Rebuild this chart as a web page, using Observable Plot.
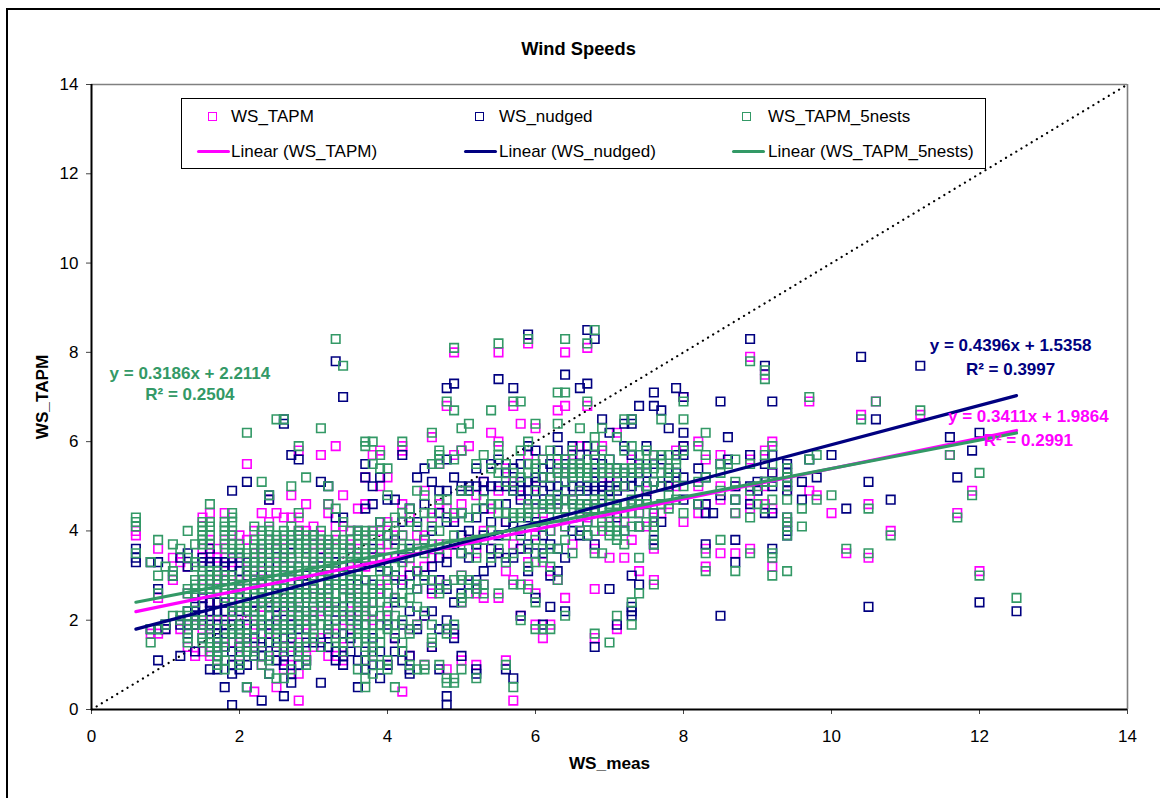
<!DOCTYPE html>
<html><head><meta charset="utf-8">
<script src="https://cdn.jsdelivr.net/npm/d3@7"></script>
<script src="https://cdn.jsdelivr.net/npm/@observablehq/plot@0.6"></script>
<style>
html,body{margin:0;padding:0;background:#fff;width:1160px;height:798px;overflow:hidden}
#wrap{position:relative;width:1160px;height:798px}
#frame{position:absolute;left:6px;top:8px;width:1154px;height:790px;border-left:2px solid #000;border-top:2px solid #000;box-sizing:border-box}
#chart{position:absolute;left:0;top:0}
#legend{position:absolute;left:181px;top:98px;width:805px;height:71px;border:1.3px solid #000;box-sizing:border-box;background:#fff;font:17px "Liberation Sans",Arial,sans-serif;color:#000}
#legend .t{position:absolute;white-space:nowrap;line-height:20px}
#legend .m{position:absolute;width:7px;height:7px;border:1.5px solid}
#legend .l{position:absolute;height:3px;width:33px;border-radius:1.5px}
</style></head><body>
<div id="wrap"><div id="frame"></div><div id="chart"></div><div id="legend"></div></div>
<script>
const seriesNames = ["WS_TAPM","WS_nudged","WS_TAPM_5nests"];
const seriesColors = ["#ff00ff","#000080","#339966"];
const axisTicks = [0,2,4,6,8,10,12,14];
const trendSlope = [0.3411,0.4396,0.3186];
const trendIntercept = [1.9864,1.5358,2.2114];
const trendX = [0.6,12.5];

const wsTapm = [
[0.6,[4,3.9]],[0.8,[1.7]],[0.9,[3.6,2.5,1.7]],[1.0,[1.8]],[1.1,[3.4,2.9]],[1.2,[3.3,2.0,1.8]],[1.3,[3.2,2.6,2.0,1.4]],[1.4,[2.6,2.4,1.9,1.2]],
[1.5,[4.3,3.6,3.4,2.9,2.5,1.8,1.3]],[1.6,[4.4,3.8,3.5,3.2,2.4,2.0,1.8,1.3,1.2]],[1.7,[3.6,3.4,2.9,2.4,1.9,1.4,1.1]],[1.8,[4.4,3.8,3.4,3.1,2.4,2.0,1.4]],[1.9,[3.9,3.4,3.3,2.8,2.4,2.1,1.5,1.0]],[2.0,[3.9,3.3,2.9,2.2,1.6,1.2]],
[2.1,[5.5,3.8,3.3,2.6,2.0,1.5]],[2.2,[4.0,3.5,3.1,2.4,1.9,1.5,1.2,0.4]],[2.3,[4.4,3.5,3.1,2.9,2.3,1.5,1.0]],[2.4,[4.7,4.2,3.8,3.1,2.3,1.7]],[2.5,[4.4,3.6,3.3,2.6,2.1,1.9,1.3,0.5]],[2.6,[4.3,3.8,3.2,2.3,1.6,1.1,0.9]],[2.7,[4.8,4.3,3.4,2.7,2.1,1.4,1.0]],
[2.8,[5.8,4.3,4.0,3.0,2.3,1.5,0.8,0.2]],[2.9,[4.6,4.0,3.5,2.6,1.9,1.2,1.1]],[3.0,[4.1,3.7,3.3,2.7,2.2,1.7,1.4]],[3.1,[5.7,3.9,3.6,3.0,2.2,1.6]],[3.2,[4.6,4.4,3.5,2.4,1.8,1.2]],[3.3,[5.9,4.1,3.8,3.1,2.4,1.7,1.2]],[3.4,[4.8,4.1,3.5,2.8,2.0,1.4,1.1]],
[3.5,[4.0,3.7,3.2,2.6,2.2,1.8]],[3.6,[4.5,3.6,3.2,2.7,2.2,1.5]],[3.7,[5.2,4.6,3.8,3.2,2.9,2.1,1.1]],[3.8,[5.7,4.0,3.4,2.4,2.0,1.3]],[3.9,[5.8,5.0,4.0,3.6,2.7,1.9]],[4.0,[5.2,4.2,3.7,2.9,2.2,1.0]],[4.1,[3.9,3.4,2.5,1.6]],[4.2,[5.9,5.8,4.6,3.9,2.9,0.4]],[4.3,[4.3,3.2,3.0,1.8,1.2]],[4.4,[3.9,3.6,2.7,1.9]],
[4.5,[4.9,3.9,3.2,2.1,1.0]],[4.6,[6.1,4.3,3.4,2.6,1.4]],[4.7,[5.5,4.6,3.7,2.9]],[4.8,[6.8,4.5,3.5,2.8,1.8,0.9]],[4.9,[8.0,5.7,4.3,3.7,1.7]],[5.0,[5.8,4.6,3.0,2.4,1.1]],[5.1,[5.9,4.9,3.8,2.8]],
[5.2,[4.8,3.5,2.6,1.0]],[5.3,[5.1,4.0,2.8,2.5]],[5.4,[6.2,4.5,3.6]],[5.5,[8.0,6.0,4.9,3.5,2.5]],[5.6,[5.4,4.2,3.1,1.1]],[5.7,[6.8,5.1,3.7,2.9,0.2]],[5.8,[6.4,4.8,3.6,2.1]],[5.9,[8.2,5.7,4.5,3.3,2.8]],
[6.0,[6.3,5.0,3.9,2.6,1.9]],[6.1,[5.6,4.4,3.3,1.6]],[6.2,[5.2,4.0,3.1,1.9]],[6.3,[6.7,5.5,4.6,2.9]],[6.4,[8.0,6.8,5.3,4.1,2.5]],[6.5,[5.7,4.7,3.7]],[6.6,[5.9,4.9,4.0]],[6.7,[8.1,6.8,5.4,4.3]],
[6.8,[5.7,4.6,3.6,2.7,1.6]],[6.9,[5.9,5.0,4.0]],[7.0,[5.2,4.3,3.4]],[7.1,[6.2,5.4,4.4,1.8]],[7.2,[5.0,4.2,3.4]],[7.3,[5.6,4.6,3.8]],[7.4,[5.3,4.4,3.1]],[7.5,[4.9,4.1]],[7.6,[5.7,4.3,3.6,2.9]],
[7.7,[5.0,4.4]],[7.8,[5.4,4.6]],[7.9,[5.8,5.0]],[8.0,[7.0,5.9,4.2]],[8.2,[6.0,5.0,4.4]],[8.3,[5.6,4.6,3.6,3.2]],[8.5,[5.7,5.0,4.7,3.5]],[8.7,[5.0,4.4,3.5]],[8.9,[7.9,5.6,4.8,4.5,3.6]],[9.1,[7.5,5.8,5.0,4.6]],[9.2,[6.0,5.3,4.5,3.2]],
[9.4,[4.9,4.2]],[9.7,[6.9,4.9]],[9.8,[4.8]],[10.0,[4.4]],[10.2,[3.5]],[10.4,[6.6]],[10.5,[4.6,3.4]],[10.6,[6.9]],[10.8,[4.0]],[11.2,[6.6]],[11.6,[5.7]],[11.7,[4.4]],[11.9,[4.9]],[12.0,[3.1]]
];

const wsNudged = [
[0.6,[3.6,3.4,3.3]],[0.8,[3.3,1.8]],[0.9,[3.3,2.7,1.8,1.1]],[1.0,[1.9,1.8]],[1.1,[3.0]],[1.2,[3.4,1.9,1.2]],[1.3,[3.5,3.2,2.2,1.9,1.7]],[1.4,[2.3,2.2,1.9,1.3]],
[1.5,[3.4,3.3,2.5,2.3,2.1,1.9,1.6]],[1.6,[3.6,3.3,3.2,2.7,2.4,2.2,1.9,1.7,0.9]],[1.7,[3.3,3.0,2.4,2.2,1.9,1.7,1.6,1.2,0.9]],[1.8,[3.3,3.2,2.9,2.4,2.2,1.9,1.7,1.4,0.5]],[1.9,[4.9,3.4,3.2,2.6,2.2,1.9,1.7,1.3,1.0,0.8,0.1]],[2.0,[3.4,3.1,2.7,2.2,1.9,1.7,1.4,1.1,0.9]],
[2.1,[5.1,3.3,3.0,2.6,2.2,1.9,1.6,1.3,1.0,0.5]],[2.2,[3.3,2.9,2.4,2.2,1.8,1.6,1.2]],[2.3,[3.6,3.0,2.7,2.4,1.9,1.7,1.4,1.2,0.2]],[2.4,[4.8,4.7,3.3,2.9,2.4,2.1,1.9,1.5,0.8]],[2.5,[3.6,3.0,2.6,2.3,2.0,1.7,1.4,1.1]],[2.6,[6.5,6.4,3.4,2.9,2.5,2.2,1.9,1.6,1.2,1.0,0.3]],[2.7,[5.7,3.7,3.1,2.6,2.3,1.9,1.6,1.3,0.8,0.6]],
[2.8,[5.6,3.9,3.2,2.8,2.4,2.1,1.8,1.3,1.0]],[2.9,[3.6,3.0,2.6,2.2,1.8,1.5,1.1]],[3.0,[3.9,3.2,2.7,2.3,2.0,1.5]],[3.1,[5.1,3.4,3.0,2.5,2.1,1.5,0.6]],[3.2,[5.0,3.7,3.1,2.7,2.2,1.7,1.4]],[3.3,[7.8,4.3,3.3,2.8,2.4,2.0,1.3,1.1]],[3.4,[7.0,4.3,3.2,2.7,2.3,1.7,1.2,1.0]],
[3.5,[3.6,3.0,2.5,2.1,1.6,1.3]],[3.6,[4.0,3.4,2.8,2.3,1.9,1.1,0.5]],[3.7,[5.5,5.2,4.5,3.3,2.9,2.4,1.9,1.3,0.9]],[3.8,[5.0,4.6,3.6,2.8,2.2,1.6,1.0]],[3.9,[5.2,4.2,3.2,2.6,1.9,1.3,0.7]],[4.0,[4.7,3.9,3.1,2.6,1.9,1.0]],[4.1,[4.7,3.8,3.0,2.4,1.6,1.3]],[4.2,[5.7,4.2,3.4,2.8,1.9,1.1]],[4.3,[4.5,3.6,3.0,2.2,1.2,0.9,0.8]],[4.4,[5.2,4.2,3.1,2.7,1.8]],
[4.5,[5.4,4.6,3.8,3.0,2.1]],[4.6,[5.1,4.0,3.2,2.7,2.2,1.4]],[4.7,[4.9,4.4,3.4,2.9,1.8,0.9]],[4.8,[7.2,5.6,4.9,4.2,3.3,2.7,2.0,0.3,0.1]],[4.9,[7.3,5.2,4.2,3.7,2.4,1.8,1.6]],[5.0,[5.0,4.9,4.4,3.9,3.5,2.6,1.2]],[5.1,[5.0,4.9,4.0,3.4,2.8]],
[5.2,[5.4,5.0,4.3,3.7,2.9,2.7,0.9,0.8]],[5.3,[5.1,4.9,4.5,3.9,3.1]],[5.4,[5.5,5.0,4.2,3.6,3.3]],[5.5,[7.4,5.6,5.0,3.9,3.5]],[5.6,[5.3,5.0,4.6,4.2,3.4,0.9]],[5.7,[7.2,5.4,5.0,4.9,4.1,3.4,0.7]],[5.8,[5.5,5.1,4.9,4.7,4.0,3.6,2.1]],[5.9,[8.4,5.9,5.1,4.9,4.3,3.7,3.1]],
[6.0,[5.8,5.2,5.1,4.7,4.2,3.5,2.5]],[6.1,[5.4,5.2,4.9,4.6,3.9,3.5,1.9]],[6.2,[5.5,5.0,4.7,4.5,3.7,3.0,2.3]],[6.3,[6.1,5.8,5.4,5.0,4.7,3.6,3.1]],[6.4,[7.5,5.6,5.5,5.1,4.9,4.5,3.4,2.2]],[6.5,[5.9,5.4,5.2,5.0,4.7,4.0]],[6.6,[7.2,5.7,5.5,5.0,4.9,4.4,3.9]],[6.7,[8.5,7.3,5.9,5.2,5.0,4.9,4.6,4.2,3.9]],
[6.8,[8.3,5.7,5.3,5.0,4.9,4.5,3.7,1.4]],[6.9,[6.5,5.5,5.1,5.0,4.8]],[7.0,[6.2,5.6,5.0,4.9,4.7,2.7]],[7.1,[5.4,5.1,5.0,4.9,4.3,1.9]],[7.2,[6.4,5.9,5.3,5.0,4.6,4.0]],[7.3,[6.5,6.4,5.7,5.2,5.0,3.0,2.3,2.2,2.1]],[7.4,[6.8,5.5,5.1,4.6,4.1,2.8]],[7.5,[5.9,5.3,5.0,4.7]],[7.6,[7.1,6.8,5.5,5.1,4.4,4.1,3.8,3.7]],
[7.7,[6.7,5.6,5.0,4.2]],[7.8,[6.3,5.2,5.0]],[7.9,[7.2,5.7,5.3]],[8.0,[7.0,6.2,5.9,5.7,5.2,4.7]],[8.2,[5.4,4.6]],[8.3,[5.2,4.6,4.4,3.7]],[8.4,[4.4]],[8.5,[6.9,5.5,4.8,2.1]],[8.6,[6.1,5.6]],[8.7,[5.0,4.7,3.8,3.3]],[8.9,[8.3,5.7,5.0,4.6]],[9.0,[5.1,4.9]],[9.1,[7.7,5.5,5.1,4.4]],[9.2,[6.9,5.7,5.3,5.0,4.4,3.6]],
[9.4,[5.5,5.4,5.3,5.2,5.1,5.0,4.9,4.3,4.1,4.0,3.9]],[9.6,[5.1,4.7]],[9.7,[5.6]],[9.8,[5.2]],[10.0,[5.7]],[10.2,[4.5]],[10.4,[7.9]],[10.5,[5.1,2.3]],[10.6,[6.5]],[10.8,[4.7]],[11.2,[7.7]],[11.6,[6.1]],[11.7,[5.2]],[11.9,[5.8]],[12.0,[6.2,2.4]],[12.5,[2.2]]
];

const wsNests = [
[0.6,[4.3,4.2,4.1,3.5]],[0.8,[3.3,1.8,1.5]],[0.9,[3.8,3.0,2.6,1.8]],[1.0,[3.2,1.9]],[1.1,[3.7,3.1,3.0,2.1]],[1.2,[3.6,2.1,2.0]],[1.3,[4.0,3.4,2.7,2.6,2.2,2.1,1.9,1.8,1.6,1.5]],[1.4,[3.7,3.3,3.2,2.9,2.8,2.7,2.6,2.4,2.0,1.9]],
[1.5,[4.2,4.1,4.0,3.9,3.8,3.7,3.1,3.0,2.8,2.7,2.0,1.9,1.6,1.5]],[1.6,[4.6,4.2,4.1,3.9,3.7,3.1,3.0,2.9,2.7,2.6,1.8,1.7,1.5,1.4,1.3]],[1.7,[3.1,3.0,2.8,2.7,2.0,1.5,1.4,1.3,1.2,1.1,1.0]],[1.8,[4.2,4.1,4.0,3.9,3.7,3.6,3.0,2.9,2.7,2.6,2.5,1.8,1.6,1.5,1.4,1.1,0.9]],[1.9,[4.4,4.3,4.2,4.0,3.9,3.7,3.6,3.5,3.0,2.9,2.7,2.6,2.3,2.2,2.0,1.8,1.7]],[2.0,[3.7,3.6,3.5,2.8,2.7,2.5,2.4,2.3,1.9,1.8,1.7,1.6,1.4,1.3,1.1,1.0]],
[2.1,[6.2,3.5,3.4,3.2,3.1,2.9,2.7,2.4,2.3,2.2,1.7,1.6,1.4,1.3,0.5]],[2.2,[4.1,3.8,3.7,3.6,3.4,3.3,3.1,3.0,2.8,2.7,2.6,2.5,2.3,2.1,2.0,1.8,1.3,1.2]],[2.3,[5.1,4.0,3.9,3.7,3.6,3.4,3.3,3.2,2.9,2.8,2.7,2.5,2.4,2.2,2.0,1.9,1.7,1.5,1.0]],[2.4,[4.8,4.1,4.0,3.8,3.7,3.5,3.4,3.1,3.0,2.9,2.7,2.6,2.5,2.3,2.1,1.8,1.2,1.1,0.8]],[2.5,[6.5,3.9,3.8,3.7,3.5,3.4,3.2,3.1,3.0,2.8,2.7,2.5,2.4,2.2,1.9,1.8,1.7,1.6,1.5,0.7]],[2.6,[6.5,4.0,3.9,3.7,3.6,3.5,3.3,3.2,3.1,2.9,2.8,2.6,2.5,2.4,2.1,1.9,1.8,1.4,1.3,0.7]],[2.7,[5.0,4.1,3.9,3.8,3.6,3.4,3.3,3.1,3.0,2.8,2.7,2.5,2.4,2.3,2.2,2.0,1.8,1.7,1.5,0.9]],
[2.8,[5.9,4.4,4.0,3.9,3.7,3.6,3.5,3.2,3.1,3.0,2.7,2.6,2.4,2.3,2.1,2.0,1.9,1.4,1.3,1.2]],[2.9,[5.2,3.9,3.8,3.7,3.5,3.4,3.3,3.1,2.9,2.7,2.6,2.5,2.2,2.1,2.0,1.8,1.6,1.4,1.1,1.0]],[3.0,[3.9,3.8,3.6,3.5,3.3,3.2,3.0,2.9,2.7,2.6,2.4,2.3,2.1,2.0,1.8,1.7,1.6]],[3.1,[6.3,4.0,3.8,3.7,3.5,3.3,3.1,3.0,2.8,2.6,2.5,2.4,2.1,1.9,1.4]],[3.2,[5.0,4.6,3.8,3.7,3.6,3.4,3.3,3.2,3.1,2.9,2.8,2.6,2.5,2.3,2.2,1.9,1.8]],[3.3,[8.3,4.5,3.9,3.7,3.6,3.4,3.2,3.1,2.9,2.8,2.6,2.4,2.3,2.1,1.8,1.6,1.5]],[3.4,[7.7,4.2,3.8,3.7,3.5,3.4,3.0,2.8,2.7,2.5,2.2,2.1,1.9,1.5,1.3]],
[3.5,[4.0,3.8,3.6,3.5,3.3,3.1,2.9,2.8,2.6,2.5,2.3,2.0,1.7]],[3.6,[4.0,3.9,3.7,3.5,3.4,3.1,3.0,2.7,2.6,2.4,2.3,2.1,2.0,1.8,1.7,1.5,0.9]],[3.7,[6.0,5.9,4.0,3.9,3.8,3.6,3.5,3.4,2.9,2.7,2.5,2.4,2.2,2.1,1.9,1.7,1.6,1.4,1.1,0.7,0.5]],[3.8,[6.0,5.5,4.0,3.9,3.7,3.5,3.3,2.9,2.7,2.6,2.4,2.2,1.9,1.7,1.4,1.3,1.2,0.8]],[3.9,[5.7,5.4,4.2,3.9,3.7,3.4,3.1,2.8,2.6,2.4,2.1,1.9,1.7,1.5,1.0]],[4.0,[5.4,4.8,4.1,3.9,3.4,3.1,2.8,2.6,2.3,2.1,1.8,1.1,0.9]],[4.1,[4.3,4.0,3.7,3.2,2.9,2.5,2.1,1.9,1.7,0.5]],[4.2,[6.0,4.4,3.9,3.6,3.3,2.6,2.4,2.0,1.5,1.3]],[4.3,[4.5,4.2,3.7,3.4,2.8,2.5,1.8,1.7,1.0]],[4.4,[4.9,4.1,3.6,3.1,2.7,2.3,1.9,0.9]],
[4.5,[4.8,4.4,3.8,3.5,2.9,2.2,1.0,0.9]],[4.6,[6.2,5.5,4.4,4.1,3.7,2.9,1.9,1.6,1.5]],[4.7,[5.8,5.7,5.6,5.5,4.7,4.0,3.6,2.7,2.6,1.0]],[4.8,[6.9,4.7,4.3,3.7,2.8,1.8,1.7,0.7,0.6]],[4.9,[8.1,6.7,5.6,4.4,3.9,2.9,1.9,0.7,0.6]],[5.0,[6.3,5.8,4.9,4.4,3.5,3.0,2.9,2.5,2.4,0.9]],[5.1,[6.4,4.9,4.3,3.6,2.9,2.6]],
[5.2,[5.5,4.5,3.8,3.4,2.8,2.7,0.7]],[5.3,[5.7,4.7,3.8,2.8,2.6]],[5.4,[6.7,5.4,4.6,4.0,3.4]],[5.5,[8.2,5.9,5.7,5.3,4.6,4.4,3.6,2.6]],[5.6,[5.5,5.1,4.4,3.9,3.3,1.0]],[5.7,[6.9,5.3,4.9,4.4,4.3,3.5,2.8,0.5]],[5.8,[6.9,5.8,5.2,4.4,4.3,3.9,2.8,2.0]],[5.9,[8.3,6.0,5.5,5.3,4.6,4.5,4.4,3.6,3.2,2.7]],
[6.0,[6.4,5.5,5.4,4.9,4.6,4.3,3.8,3.3,2.4,1.8]],[6.1,[5.6,5.2,4.6,4.5,4.1,3.6,3.4,1.8]],[6.2,[5.8,5.2,4.7,4.6,4.5,4.0,3.6,3.2,1.8]],[6.3,[7.1,6.4,5.6,5.4,5.3,4.8,4.6,4.3,3.6,2.9]],[6.4,[8.3,7.1,5.6,5.4,5.3,5.1,4.7,4.5,4.1,3.8,2.1]],[6.5,[5.8,5.5,5.4,5.3,5.2,4.7,4.6,4.3,3.5]],[6.6,[6.3,5.5,5.4,5.3,4.9,4.6,4.5,4.4,4.0]],[6.7,[8.2,6.9,5.6,5.4,5.3,5.2,4.6,4.5,4.2,3.9]],
[6.8,[8.5,6.1,5.9,5.6,5.4,5.2,4.7,4.6,4.5,4.0,3.5,1.7]],[6.9,[6.3,5.8,5.4,5.3,4.7,4.5,4.2,4.1,3.5]],[7.0,[5.6,5.4,5.3,4.8,4.6,4.4,4.1,4.0,3.9,1.5]],[7.1,[6.1,5.4,5.3,5.0,4.6,4.5,4.2,4.0,3.9,3.8,2.1]],[7.2,[6.5,5.8,5.4,5.3,5.0,4.6,4.4,4.0,3.7]],[7.3,[6.5,5.9,5.4,5.3,4.7,4.6,4.4,4.1,2.4,1.9]],[7.4,[5.7,5.4,5.3,4.9,4.6,4.4,4.1,3.4,2.6]],[7.5,[5.8,5.5,5.4,5.0,4.6,4.2]],[7.6,[5.7,5.4,5.1,4.4,4.2,4.1,3.9,3.7,2.8]],
[7.7,[6.5,5.7,5.5,5.3,5.0,4.6]],[7.8,[5.7,5.4,5.3,4.8,4.5]],[7.9,[5.6,5.5,5.2,4.7]],[8.0,[6.9,6.5,5.8,5.0,4.4]],[8.2,[5.9,5.1,4.6]],[8.3,[6.2,5.7,5.2,3.5,3.1]],[8.5,[5.5,5.3,4.9,3.8]],[8.6,[5.5]],[8.7,[5.6,5.1,4.7,4.4,3.1]],[8.9,[7.8,5.5,4.9,4.3,3.5]],[9.0,[5.0,4.6]],[9.1,[7.6,7.4,5.7,5.1,4.5]],[9.2,[5.9,5.5,5.1,4.7,3.5,3.4,3.0]],
[9.4,[5.4,5.2,5.0,4.7,4.3,4.2,4.1,3.9,3.1]],[9.6,[4.5,4.1]],[9.7,[7.0,5.6]],[9.8,[5.7,4.7]],[10.0,[4.8]],[10.2,[3.6]],[10.4,[6.5]],[10.5,[4.5,3.5]],[10.6,[6.9]],[10.8,[3.9]],[11.2,[6.7]],[11.6,[5.7]],[11.7,[4.3]],[11.9,[4.8]],[12.0,[5.3,3.0]],[12.5,[2.5]]
];

const allSeries = [wsTapm, wsNudged, wsNests];
const flat = allSeries.map(cols => cols.flatMap(([x, ys]) => ys.map(y => ({x, y}))));
const font = '"Liberation Sans",Arial,sans-serif';
const lines = seriesColors.map((c,i) => trendX.map(x => ({x, y: trendSlope[i]*x + trendIntercept[i]})));

const labelData = [
  {s:1, x:12.42, y:8.15, t:"y = 0.4396x + 1.5358"},
  {s:1, x:12.42, y:7.62, t:"R² = 0.3997"},
  {s:0, x:12.66, y:6.56, t:"y = 0.3411x + 1.9864"},
  {s:0, x:12.66, y:6.03, t:"R² = 0.2991"},
  {s:2, x:1.33, y:7.53, t:"y = 0.3186x + 2.2114"},
  {s:2, x:1.33, y:7.06, t:"R² = 0.2504"}
];

const plot = Plot.plot({
  width:1160, height:798,
  marginLeft:91, marginRight:33, marginTop:84, marginBottom:89,
  style:{fontFamily:font, fontSize:"17px", background:"transparent", color:"#000"},
  x:{domain:[0,14], range:[91,1127], label:null},
  y:{domain:[0,14], range:[709,84], label:null},
  marks:[
    Plot.axisX({ticks:axisTicks, tickSize:5, tickPadding:15, tickFormat:d=>d, anchor:"bottom", stroke:"#444", fontSize:17, label:null, color:"#000"}),
    Plot.axisY({ticks:axisTicks, tickSize:5, tickPadding:8, tickFormat:d=>d, anchor:"left", stroke:"#444", fontSize:17, label:null, color:"#000"}),
    Plot.ruleY([14],{stroke:"#808080", strokeWidth:1.6}),
    Plot.ruleX([14],{stroke:"#808080", strokeWidth:1.6}),
    Plot.line([{x:0,y:0},{x:14,y:14}],{x:"x",y:"y",stroke:"#000",strokeWidth:2.2,strokeLinecap:"round",strokeDasharray:"0.1 5.9"}),
    ...flat.map((pts,i)=>Plot.dot(pts,{x:"x",y:"y",symbol:"square",r:4.8,stroke:seriesColors[i],strokeWidth:1.6,fill:"none"})),
    Plot.ruleX([0],{stroke:"#000", strokeWidth:2}),
    Plot.ruleY([0],{stroke:"#000", strokeWidth:2}),
    ...lines.map((l,i)=>Plot.line(l,{x:"x",y:"y",stroke:seriesColors[i],strokeWidth:3.2,strokeLinecap:"round"})),
    Plot.text(labelData,{x:"x",y:"y",text:"t",fill:d=>seriesColors[d.s],fontWeight:"bold",fontSize:17,textAnchor:"middle"}),
    Plot.text(["Wind Speeds"],{frameAnchor:"top",dx:-31,dy:-43,fontWeight:"bold",fontSize:18.3,fill:"#000",textAnchor:"middle"}),
    Plot.text(["WS_meas"],{frameAnchor:"bottom",dy:59,fontWeight:"bold",fontSize:17.2,fill:"#000",textAnchor:"middle"}),
    Plot.text(["WS_TAPM"],{frameAnchor:"left",dx:-49,rotate:-90,fontWeight:"bold",fontSize:17.2,fill:"#000",textAnchor:"middle"})
  ]
});
document.getElementById("chart").appendChild(plot);

const lg = document.getElementById("legend");
const lx = [[24,14.5,48],[291,282,316],[558,550,585]];
seriesNames.forEach((n,i)=>{
  const [mx,lnx,tx]=lx[i];
  lg.insertAdjacentHTML("beforeend",
   `<div class="m" style="left:${mx+2}px;top:13px;border-color:${seriesColors[i]}"></div>`+
   `<div class="t" style="left:${tx+1}px;top:8px">${n}</div>`+
   `<div class="l" style="left:${lnx}px;top:50.5px;background:${seriesColors[i]}"></div>`+
   `<div class="t" style="left:${tx+1}px;top:43px">Linear (${n})</div>`);
});
</script>
</body></html>
